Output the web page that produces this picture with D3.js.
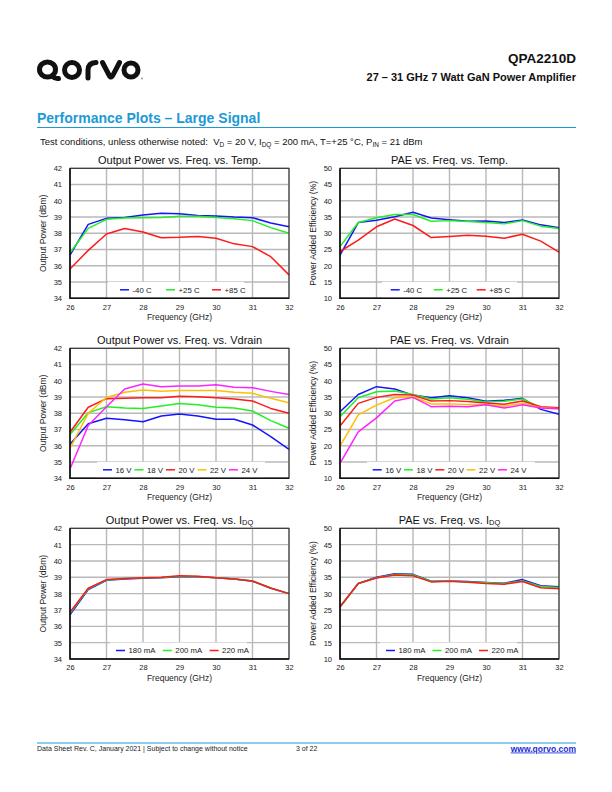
<!DOCTYPE html>
<html><head><meta charset="utf-8">
<script src="https://cdn.jsdelivr.net/npm/d3@7"></script>
<style>body{margin:0;background:#fff}svg{display:block}text{font-family:"Liberation Sans",Arial,sans-serif}</style>
</head><body>
<svg id="page" width="612" height="792"></svg>
<script>
// ---------- DATA ----------
const freqs = [26,26.5,27,27.5,28,28.5,29,29.5,30,30.5,31,31.5,32];
const xTicks = [26,27,28,29,30,31,32];
const poutTicks = [34,35,36,37,38,39,40,41,42];
const paeTicks = [10,15,20,25,30,35,40,45,50];

const tempLabels = ["-40 C","+25 C","+85 C"];
const poutTempM40 = [36.65,38.55,38.92,38.98,39.13,39.23,39.2,39.1,39.07,39.0,38.96,38.63,38.4];
const poutTemp25  = [36.8,38.3,38.86,38.94,38.96,38.97,39.05,39.05,38.97,38.9,38.78,38.35,38.0];
const poutTemp85  = [35.8,36.95,37.96,38.29,38.08,37.73,37.75,37.8,37.7,37.35,37.18,36.56,35.44];
const paeTempM40  = [23.3,33.3,34.0,35.1,36.5,34.7,34.2,33.7,33.8,33.3,34.1,32.6,31.7];
const paeTemp25   = [25.9,33.3,34.8,35.8,35.8,33.7,33.9,33.6,33.3,32.9,33.9,32.2,31.5];
const paeTemp85   = [24.4,27.9,32.0,34.4,32.4,28.7,29.0,29.4,29.1,28.5,29.7,27.6,24.2];

const vdLabels = ["16 V","18 V","20 V","22 V","24 V"];
const poutVd16 = [36.1,37.36,37.7,37.6,37.48,37.83,37.95,37.84,37.63,37.63,37.28,36.56,35.78];
const poutVd18 = [36.7,38.04,38.4,38.33,38.3,38.45,38.6,38.53,38.37,38.33,38.14,37.55,37.08];
const poutVd20 = [36.83,38.37,38.9,38.93,38.95,38.96,39.05,39.02,38.96,38.88,38.76,38.3,38.0];
const poutVd22 = [35.85,38.0,38.97,39.3,39.44,39.35,39.4,39.4,39.4,39.3,39.23,38.92,38.65];
const poutVd24 = [34.57,37.25,38.4,39.5,39.8,39.63,39.68,39.68,39.76,39.6,39.57,39.35,39.15];
const paeVd16 = [30.5,35.8,38.2,37.5,35.6,34.8,35.4,34.8,33.7,34.0,34.6,31.2,29.7];
const paeVd18 = [28.95,34.8,36.65,36.85,35.8,34.4,34.8,34.3,33.5,33.7,34.4,31.8,31.7];
const paeVd20 = [26.1,33.05,34.9,35.8,35.6,33.8,33.9,33.6,33.2,32.8,33.8,32.0,31.7];
const paeVd22 = [19.9,29.5,32.5,34.8,35.1,32.9,32.9,32.7,32.7,32.2,33.1,31.7,31.4];
const paeVd24 = [14.6,24.3,28.6,33.8,34.9,32.05,32.15,32.05,32.6,31.6,32.6,31.6,31.4];

const idqLabels = ["180 mA","200 mA","220 mA"];
const poutIdq180 = [36.7,38.25,38.82,38.9,38.95,38.98,39.04,39.03,38.97,38.9,38.76,38.33,38.0];
const poutIdq200 = [36.8,38.3,38.84,38.92,38.97,38.99,39.07,39.05,38.97,38.9,38.77,38.34,38.0];
const poutIdq220 = [36.86,38.33,38.86,38.93,38.98,39.0,39.1,39.06,38.98,38.9,38.77,38.35,38.0];
const paeIdq180 = [25.9,33.1,35.0,36.1,35.9,33.8,33.9,33.7,33.4,33.2,34.3,32.4,32.1];
const paeIdq200 = [25.9,33.1,34.9,35.9,35.7,33.7,33.9,33.6,33.3,33.1,33.9,32.2,31.9];
const paeIdq220 = [26.0,33.1,34.8,35.7,35.5,33.6,33.8,33.5,33.1,32.9,33.7,31.8,31.5];

// ---------- STYLE ----------
const BLUE="#1414ff", GREEN="#22f022", RED="#ff1a1a", ORANGE="#ffbf00", MAG="#ff22ff";
const QBLUE="#1c9ad6";
const svg = d3.select("#page");

// ---------- HEADER ----------
const logo = svg.append("g").attr("fill","none").attr("stroke","#111").attr("stroke-width",5).attr("stroke-linecap","round").attr("stroke-linejoin","round");
logo.append("ellipse").attr("cx",47.5).attr("cy",69.5).attr("rx",8).attr("ry",7.5);
logo.append("path").attr("d","M52,76 Q55,79 58.5,78.5");
logo.append("circle").attr("cx",72).attr("cy",70).attr("r",7.5);
logo.append("path").attr("d","M88,78 L88,70 Q88,63 96,62.5");
logo.append("path").attr("d","M102.5,62.5 L109,75 Q111,79 113,75 L119.5,62.5");
logo.append("circle").attr("cx",131).attr("cy",70).attr("r",7);
svg.append("circle").attr("cx",142).attr("cy",78.5).attr("r",1).attr("fill","#999");

svg.append("text").attr("x",576).attr("y",63).attr("text-anchor","end").attr("font-size",13.5).attr("font-weight","bold").attr("fill","#111").text("QPA2210D");
svg.append("text").attr("x",576).attr("y",80.5).attr("text-anchor","end").attr("font-size",11).attr("font-weight","bold").attr("fill","#111").text("27 – 31 GHz 7 Watt GaN Power Amplifier");

svg.append("text").attr("x",37).attr("y",123).attr("font-size",14).attr("font-weight","bold").attr("fill",QBLUE).text("Performance Plots – Large Signal");
svg.append("line").attr("x1",37).attr("x2",576).attr("y1",127.5).attr("y2",127.5).attr("stroke",QBLUE).attr("stroke-width",1.2);

// parts: strings are normal text, {sub:"..."} are subscripts
function richText(sel, parts, fs){
  let lowered = false;
  parts.forEach(p=>{
    if(typeof p==="string"){
      const t = sel.append("tspan").attr("font-size",fs).text(p);
      if(lowered){ t.attr("dy",-1.5); lowered=false; }
    } else {
      sel.append("tspan").attr("font-size",fs*0.68).attr("dy",1.5).text(p.sub);
      lowered = true;
    }
  });
}
const tc = svg.append("text").attr("x",40).attr("y",145).attr("fill","#111").attr("xml:space","preserve");
richText(tc, ["Test conditions, unless otherwise noted:  V",{sub:"D"}," = 20 V, I",{sub:"DQ"}," = 200 mA, T=+25 °C, P",{sub:"IN"}," = 21 dBm"], 9.5);

// ---------- FOOTER ----------
svg.append("line").attr("x1",37).attr("x2",576).attr("y1",743).attr("y2",743).attr("stroke",QBLUE).attr("stroke-width",1);
svg.append("text").attr("x",37).attr("y",751).attr("font-size",7).attr("fill","#222").text("Data Sheet Rev. C, January 2021 | Subject to change without notice");
svg.append("text").attr("x",296).attr("y",751).attr("font-size",7).attr("fill","#222").text("3 of 22");
svg.append("text").attr("x",576).attr("y",751.5).attr("text-anchor","end").attr("font-size",8.5).attr("font-weight","bold").attr("fill","#1a2fd8").attr("text-decoration","underline").text("www.qorvo.com");

// ---------- CHARTS ----------
function chart(cfg){
  const W=219, H=cfg.h;
  const g = svg.append("g");
  const x = d3.scaleLinear().domain([26,32]).range([cfg.x0, cfg.x0+W]);
  const y = d3.scaleLinear().domain(d3.extent(cfg.ticks)).range([cfg.y0+H, cfg.y0]);
  // grid
  g.append("g").selectAll("line").data(cfg.ticks).join("line")
    .attr("x1",cfg.x0).attr("x2",cfg.x0+W).attr("y1",d=>y(d)).attr("y2",d=>y(d))
    .attr("stroke","#b8b8b8").attr("stroke-width",1.4);
  g.append("g").selectAll("line").data(xTicks).join("line")
    .attr("y1",cfg.y0).attr("y2",cfg.y0+H).attr("x1",d=>x(d)).attr("x2",d=>x(d))
    .attr("stroke","#b8b8b8").attr("stroke-width",1.4);
  // axes (labels only)
  const ya = g.append("g").attr("transform",`translate(${cfg.x0},0)`)
    .call(d3.axisLeft(y).tickValues(cfg.ticks).tickFormat(d3.format("d")).tickSize(0).tickPadding(8));
  const xa = g.append("g").attr("transform",`translate(0,${cfg.y0+H})`)
    .call(d3.axisBottom(x).tickValues(xTicks).tickFormat(d3.format("d")).tickSize(0).tickPadding(6));
  [ya,xa].forEach(a=>{a.select(".domain").remove();a.selectAll("text").attr("font-size",7.5).attr("fill","#222").attr("font-family","Liberation Sans, Arial, sans-serif");});
  // legend box
  const lb = cfg.legend;
  g.append("rect").attr("x",cfg.x0+lb.bx).attr("y",cfg.y0+H-16.5).attr("width",lb.bw).attr("height",16).attr("fill","#fff");
  // series
  const line = d3.line().x((d,i)=>x(freqs[i])).y(d=>y(d));
  cfg.series.forEach(s=>{
    g.append("path").datum(s.v).attr("d",line).attr("fill","none").attr("stroke",s.c).attr("stroke-width",1.5).attr("stroke-linejoin","round");
  });
  // legend items
  cfg.series.forEach((s,i)=>{
    const lx = cfg.x0+lb.start+i*lb.step, ly = cfg.y0+H-8.5;
    g.append("line").attr("x1",lx).attr("x2",lx+9).attr("y1",ly).attr("y2",ly).attr("stroke",s.c).attr("stroke-width",1.5);
    g.append("text").attr("x",lx+12.5).attr("y",ly+2.8).attr("font-size",7.8).attr("fill","#222").text(s.n);
  });
  // frame
  g.append("rect").attr("x",cfg.x0).attr("y",cfg.y0).attr("width",W).attr("height",H).attr("fill","none").attr("stroke","#222").attr("stroke-width",1);
  g.append("path").attr("d",`M${cfg.x0},${cfg.y0} V${cfg.y0+H} H${cfg.x0+W}`).attr("fill","none").attr("stroke","#111").attr("stroke-width",1.5);
  // titles
  const t = g.append("text").attr("x",cfg.x0+W/2).attr("y",cfg.y0-4.5).attr("text-anchor","middle").attr("fill","#111");
  richText(t, cfg.title, 11);
  g.append("text").attr("x",cfg.x0+W/2).attr("y",cfg.y0+H+21.5).attr("text-anchor","middle").attr("font-size",8.5).attr("fill","#222").text("Frequency (GHz)");
  g.append("text").attr("transform",`translate(${cfg.x0-24},${cfg.y0+H/2}) rotate(-90)`).attr("text-anchor","middle").attr("font-size",8.5).attr("fill","#222").text(cfg.ytitle);
}

const L1 = {bx:38,bw:136,start:50,step:46};
const L5 = {bx:27,bw:168,start:33,step:31.5};
const L3 = {bx:40,bw:137,start:46,step:46.8};

chart({x0:70,y0:168.3,h:130,ticks:poutTicks,title:["Output Power vs. Freq. vs. Temp."],ytitle:"Output Power (dBm)",legend:L1,
  series:[{n:tempLabels[0],c:BLUE,v:poutTempM40},{n:tempLabels[1],c:GREEN,v:poutTemp25},{n:tempLabels[2],c:RED,v:poutTemp85}]});
chart({x0:340,y0:168.3,h:130,ticks:paeTicks,title:["PAE vs. Freq. vs. Temp."],ytitle:"Power Added Efficiency (%)",legend:{bx:42,bw:135,start:50.7,step:43},
  series:[{n:tempLabels[0],c:BLUE,v:paeTempM40},{n:tempLabels[1],c:GREEN,v:paeTemp25},{n:tempLabels[2],c:RED,v:paeTemp85}]});
chart({x0:70,y0:348.3,h:130,ticks:poutTicks,title:["Output Power vs. Freq. vs. Vdrain"],ytitle:"Output Power (dBm)",legend:L5,
  series:[{n:vdLabels[0],c:BLUE,v:poutVd16},{n:vdLabels[1],c:GREEN,v:poutVd18},{n:vdLabels[2],c:RED,v:poutVd20},{n:vdLabels[3],c:ORANGE,v:poutVd22},{n:vdLabels[4],c:MAG,v:poutVd24}]});
chart({x0:340,y0:348.3,h:130,ticks:paeTicks,title:["PAE vs. Freq. vs. Vdrain"],ytitle:"Power Added Efficiency (%)",legend:{bx:27,bw:168,start:32.7,step:31.3},
  series:[{n:vdLabels[0],c:BLUE,v:paeVd16},{n:vdLabels[1],c:GREEN,v:paeVd18},{n:vdLabels[2],c:RED,v:paeVd20},{n:vdLabels[3],c:ORANGE,v:paeVd22},{n:vdLabels[4],c:MAG,v:paeVd24}]});
chart({x0:70,y0:528.3,h:130.7,ticks:poutTicks,title:["Output Power vs. Freq. vs. I",{sub:"DQ"}],ytitle:"Output Power (dBm)",legend:L3,
  series:[{n:idqLabels[0],c:BLUE,v:poutIdq180},{n:idqLabels[1],c:GREEN,v:poutIdq200},{n:idqLabels[2],c:RED,v:poutIdq220}]});
chart({x0:340,y0:528.3,h:130.7,ticks:paeTicks,title:["PAE vs. Freq. vs. I",{sub:"DQ"}],ytitle:"Power Added Efficiency (%)",legend:{bx:40,bw:137,start:46,step:46.5},
  series:[{n:idqLabels[0],c:BLUE,v:paeIdq180},{n:idqLabels[1],c:GREEN,v:paeIdq200},{n:idqLabels[2],c:RED,v:paeIdq220}]});
</script>
</body></html>
